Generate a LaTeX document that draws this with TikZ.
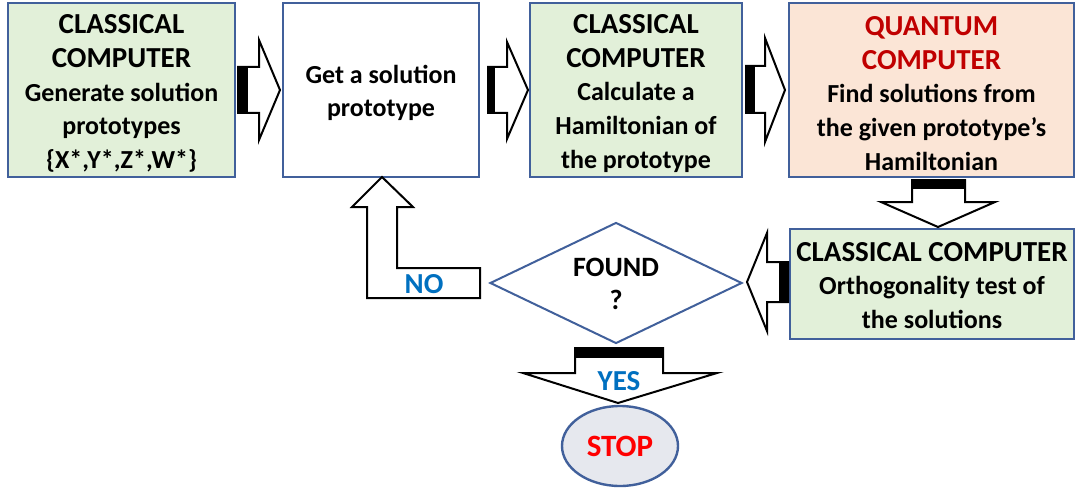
\documentclass[tikz,border=0pt]{standalone}
\usepackage{fontspec}
\setmainfont{Carlito}
\usetikzlibrary{shapes.geometric}
\definecolor{bord}{HTML}{41609B}
\definecolor{gfill}{HTML}{E2F0D9}
\definecolor{sfill}{HTML}{FBE5D6}
\definecolor{qred}{HTML}{C00000}
\definecolor{nblue}{HTML}{0070C0}
\definecolor{sred}{HTML}{FF0000}
\definecolor{efill}{HTML}{E6E8EE}
\newcommand{\hdrf}{\fontsize{29}{33.7}\selectfont\bfseries}
\newcommand{\bodyf}{\fontsize{26}{33.7}\selectfont\bfseries}
\newcommand{\lblf}{\fontsize{29}{33.7}\selectfont\bfseries}
\begin{document}
\begin{tikzpicture}[x=1pt,y=-1pt,
  box/.style={draw=bord,line width=2.4pt,inner sep=0pt},
  txt/.style={align=center,inner sep=0pt,font=\bodyf},
  blk/.style={draw=black,line width=2pt,fill=white,line join=miter},
  blkfill/.style={fill=black},
  lbl/.style={font=\lblf,text=nblue,inner sep=0pt}]
\useasboundingbox (0,0) rectangle (1076,492);

% boxes
\node[box,fill=gfill,minimum width=227pt,minimum height=174pt] (b1) at (121.5,90) {};
\node[txt] (t1) at ([yshift=-3.5pt]b1.center)
  {{\hdrf CLASSICAL}\\{\hdrf COMPUTER}\\Generate solution\\prototypes\\\{X*,Y*,Z*,W*\}};
\node[box,fill=white,minimum width=196pt,minimum height=174pt] (b2) at (381,90) {};
\node[txt] (t2) at ([yshift=-3pt]b2.center) {Get a solution\\prototype};
\node[box,fill=gfill,minimum width=212pt,minimum height=174pt] (b3) at (636,90) {};
\node[txt] (t3) at ([yshift=-3.5pt]b3.center)
  {{\hdrf CLASSICAL}\\{\hdrf COMPUTER}\\Calculate a\\Hamiltonian of\\the prototype};
\node[box,fill=sfill,minimum width=285pt,minimum height=174pt] (b4) at (931.5,90) {};
\node[txt] (t4) at ([yshift=-3.5pt]b4.center)
  {{\hdrf\color{qred}QUANTUM}\\{\hdrf\color{qred}COMPUTER}\\Find solutions from\\the given prototype’s\\Hamiltonian};
\node[box,fill=gfill,minimum width=284pt,minimum height=110pt] (b5) at (932,284) {};
\node[txt] (t5) at ([yshift=-1.5pt]b5.center)
  {{\hdrf CLASSICAL COMPUTER}\\Orthogonality test of\\the solutions};

% decision
\node[diamond,draw=bord,line width=2pt,fill=white,minimum width=252pt,minimum height=121pt,inner sep=0pt] (dec) at (616,283) {};
\node[font=\fontsize{28}{33}\selectfont\bfseries,align=center,inner sep=0pt] (dect) at ([yshift=-1pt]dec.center) {FOUND\\?};

% stop
\node[ellipse,draw=bord,line width=2.4pt,fill=efill,minimum width=116pt,minimum height=80pt,inner sep=0pt,font=\fontsize{31}{33}\selectfont\bfseries,text=sred] (stop) at (620,446) {STOP};

% block arrows right
\draw[blk] (238,67) -- (259,67) -- (259,40) -- (280,90) -- (259,140) -- (259,113) -- (238,113) -- cycle;
\fill[blkfill] (238,66) rectangle (248,114);
\draw[blk] (488,67) -- (507,67) -- (507,42) -- (528,90) -- (507,139) -- (507,113) -- (488,113) -- cycle;
\fill[blkfill] (488,66) rectangle (495,114);
\draw[blk] (746,66) -- (765,66) -- (765,38) -- (785,90) -- (765,142) -- (765,113) -- (746,113) -- cycle;
\fill[blkfill] (746,65) rectangle (755,114);

% down arrow b4 -> b5
\draw[blk] (912,180) -- (965,180) -- (965,202) -- (995,202) -- (938,227) -- (881,202) -- (912,202) -- cycle;
\fill[blkfill] (911,179) rectangle (966,189);

% left arrow b5 -> decision
\draw[blk] (788,262) -- (767,262) -- (767,233) -- (747,282) -- (767,331) -- (767,302) -- (788,302) -- cycle;
\fill[blkfill] (779,261) rectangle (789,303);

% NO arrow (L shape)
\draw[blk] (382,177) -- (413,207) -- (397,207) -- (397,268) -- (480,268) -- (480,298) -- (367,298) -- (367,207) -- (352,207) -- cycle;
\node[lbl] (no) at (424,284) {NO};

% YES arrow
\draw[blk] (575,348) -- (663,348) -- (663,373) -- (717,373) -- (618,403) -- (523,373) -- (575,373) -- cycle;
\fill[blkfill] (574,347) rectangle (664,358);
\node[lbl] (yes) at (619,381) {YES};
\end{tikzpicture}
\end{document}
